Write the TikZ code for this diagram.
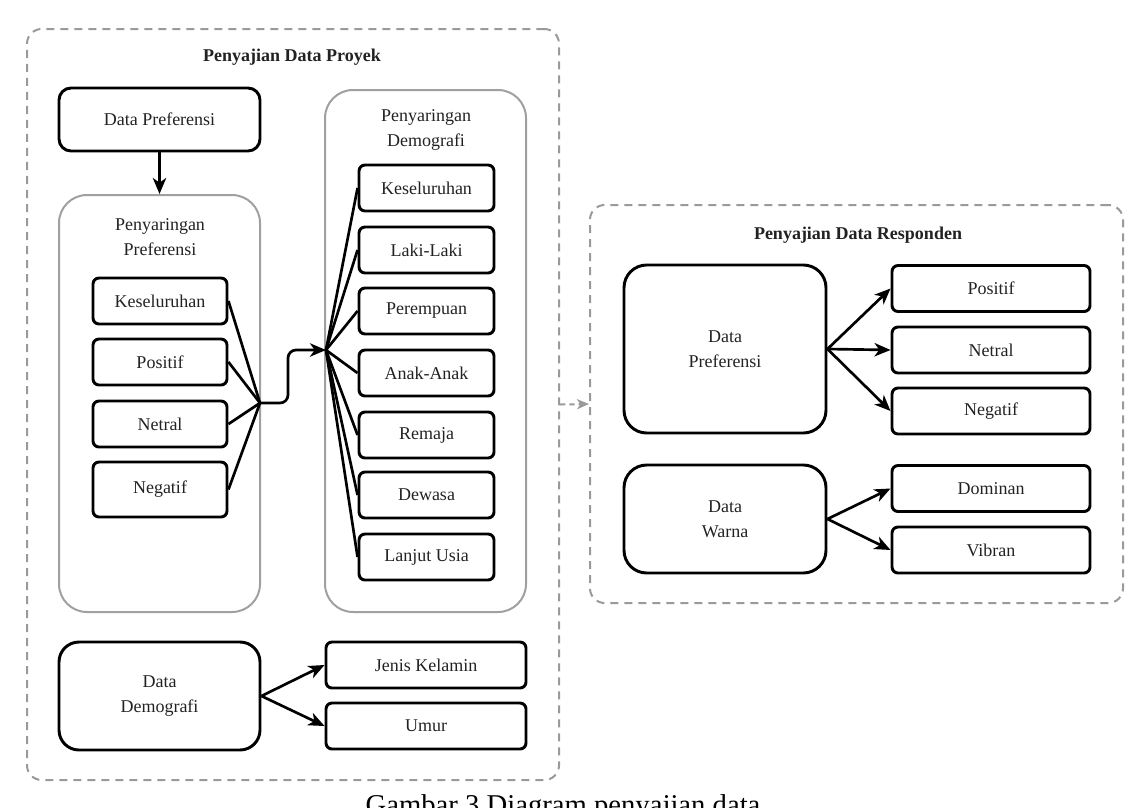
\documentclass[tikz,border=0pt]{standalone}
\usepackage{fontspec}
\setmainfont{Liberation Serif}
\usetikzlibrary{arrows.meta}
\definecolor{dashgray}{HTML}{9A9A9A}
\definecolor{contgray}{HTML}{A0A0A0}
\definecolor{txt}{HTML}{222222}
\begin{document}
\begin{tikzpicture}[x=0.75pt,y=-0.75pt,
  every node/.style={font=\fontsize{13.5}{19}\selectfont, text=txt, align=center, inner sep=0pt},
  wh/.style 2 args={minimum width=#1*0.75pt, minimum height=#2*0.75pt},
  box/.style={draw=black, line width=2.2pt, rounded corners=4.5pt},
  bigbox/.style={draw=black, line width=2.2pt, rounded corners=17pt},
  cont/.style={draw=contgray, line width=1.5pt, rounded corners=21pt},
  outer/.style={draw=dashgray, line width=1.5pt, dash pattern=on 6pt off 4.5pt, rounded corners=11pt},
  ttl/.style={font=\fontsize{13.5}{19}\selectfont\bfseries},
  conn/.style={draw=black, line width=2pt},
  arr/.style={conn, -{Stealth[length=12pt, width=10pt, inset=3.5pt]}},
  garr/.style={draw=dashgray, line width=1.5pt, dash pattern=on 4pt off 3pt, -{Stealth[length=9pt, width=7.5pt, inset=2.5pt]}}
]
\useasboundingbox (0,0) rectangle (1148,807);

% ---------- Penyajian Data Proyek ----------
\node[outer, wh={532}{751}] (proj) at (293,404.5) {};
\node[ttl] (projT) at (292,57) {Penyajian Data Proyek};

\node[box, rounded corners=9pt, wh={201}{63}] (dp1) at (159.5,119.5) {Data Preferensi};

\node[cont, wh={201}{417}] (cpref) at (159.5,403.5) {};
\node (cprefT) at (160,237) {Penyaringan\\Preferensi};

\node[box, wh={134}{46}] (pk) at (160,301) {Keseluruhan};
\node[box, wh={134}{46}] (pp) at (160,362) {Positif};
\node[box, wh={134}{46}] (pn) at (160,424) {Netral};
\node[box, wh={134}{55}] (pg) at (160,489.5) {Negatif};

\node[cont, wh={201}{522}] (cdemo) at (425.5,351) {};
\node (cdemoT) at (426,130) {Penyaringan\\Demografi};

\node[box, wh={135}{46}] (d1) at (426.5,188) {Keseluruhan};
\node[box, wh={135}{46}] (d2) at (426.5,250) {Laki-Laki};
\node[box, wh={135}{46}] (d3) at (426.5,311) {Perempuan};
\node[box, wh={135}{46}] (d4) at (426.5,373) {Anak-Anak};
\node[box, wh={135}{46}] (d5) at (426.5,435) {Remaja};
\node[box, wh={135}{46}] (d6) at (426.5,495) {Dewasa};
\node[box, wh={135}{46}] (d7) at (426.5,557) {Lanjut Usia};

\coordinate (jn) at (260,403);
\coordinate (fan) at (326,350);

\draw[arr] (dp1.south) -- (cpref.north);

\foreach \b in {pk,pp,pn,pg} \draw[conn] (\b.east) -- (jn);
\draw[arr, rounded corners=6pt] (jn) -- (288,403) |- (fan);
\foreach \b in {d1,d2,d3,d4,d5,d6,d7} \draw[conn] (fan) -- (\b.west);

\node[bigbox, rounded corners=15pt, wh={201}{108}] (dd) at (159.5,696) {Data\\Demografi};
\node[box, wh={200}{46}] (jk) at (426,665) {Jenis Kelamin};
\node[box, wh={200}{46}] (um) at (426,726) {Umur};
\draw[arr] (dd.east) -- (jk.west);
\draw[arr] (dd.east) -- (um.west);

% ---------- Penyajian Data Responden ----------
\node[outer, wh={533}{398}] (resp) at (856.5,404) {};
\node[ttl] (respT) at (858,235) {Penyajian Data Responden};

\node[bigbox, wh={202}{168}] (dp2) at (725,349) {Data\\Preferensi};
\node[box, wh={198}{46}] (r1) at (991,288.5) {Positif};
\node[box, wh={198}{46}] (r2) at (991,350) {Netral};
\node[box, wh={198}{46}] (r3) at (991,411) {Negatif};
\draw[arr] (dp2.east) -- (r1.west);
\draw[arr] (dp2.east) -- (r2.west);
\draw[arr] (dp2.east) -- (r3.west);

\node[bigbox, wh={202}{108}] (dw) at (725,519) {Data\\Warna};
\node[box, wh={198}{46}] (w1) at (991,488.5) {Dominan};
\node[box, wh={198}{46}] (w2) at (991,550) {Vibran};
\draw[arr] (dw.east) -- (w1.west);
\draw[arr] (dw.east) -- (w2.west);

\draw[garr] (proj.east) -- (resp.west);

% ---------- caption (cut by the page edge) ----------
\begin{scope}
\clip (0,0) rectangle (1148,807);
\node[anchor=base, font=\fontsize{21.5}{26}\selectfont, text=black] (cap) at (563,814) {Gambar 3 Diagram penyajian data};
\end{scope}
\end{tikzpicture}
\end{document}
